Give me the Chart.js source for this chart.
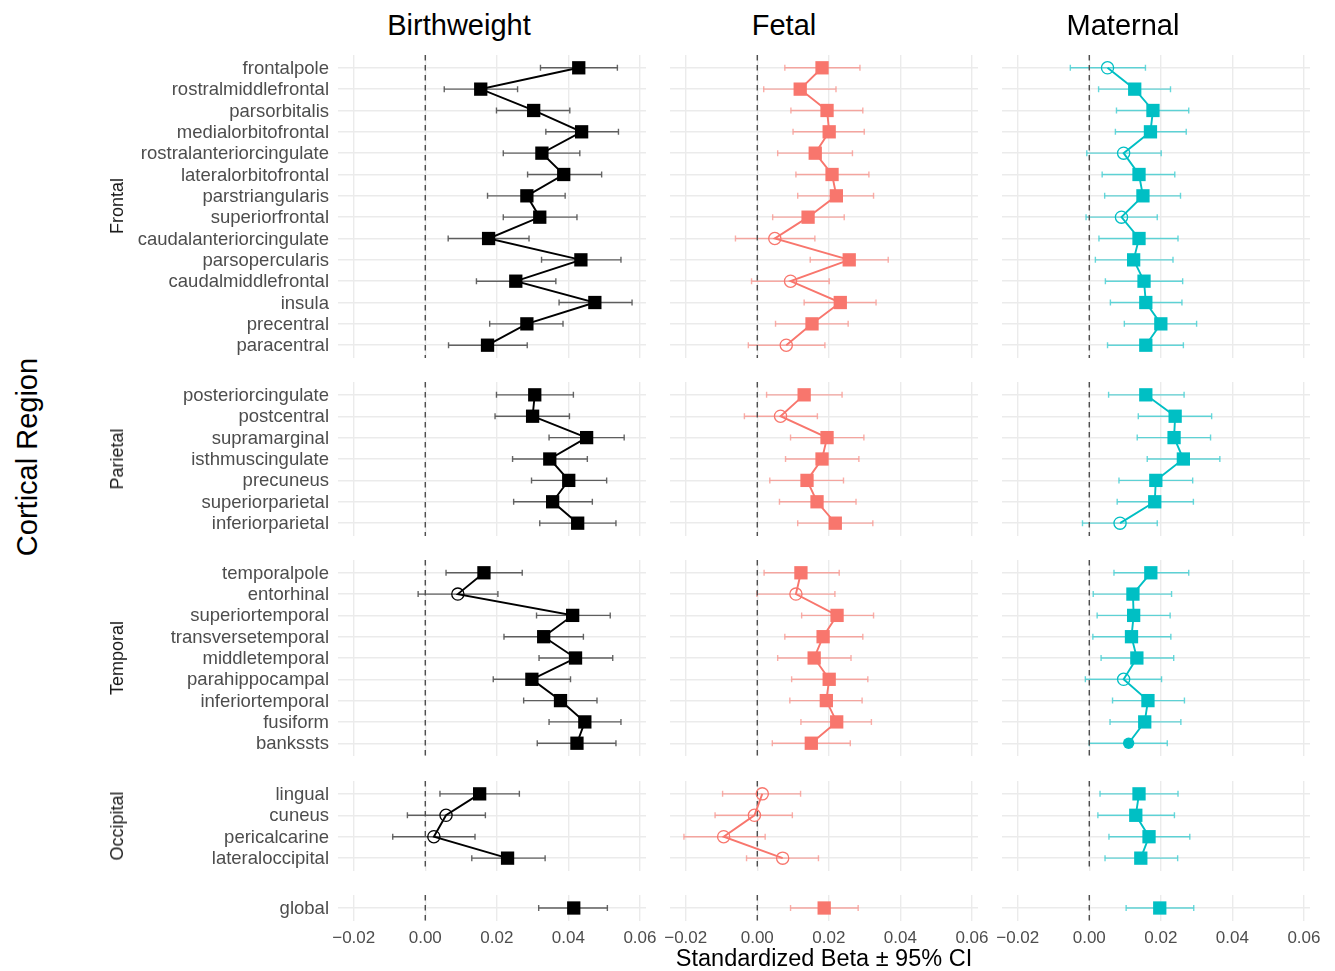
<!DOCTYPE html>
<html>
<head>
<meta charset="utf-8">
<title>Cortical Region betas</title>
<script src="https://cdn.jsdelivr.net/npm/chart.js@4.4.1/dist/chart.umd.min.js"></script>
<style>
  body { margin: 0; background: #fff; width: 1335px; height: 971px; position: relative; overflow: hidden;
         font-family: "Liberation Sans", Arial, Helvetica, sans-serif; }
  canvas { position: absolute; }
  .lbl { position: absolute; white-space: nowrap; transform: translate(-50%, -50%); }
  .rot { transform: translate(-50%, -50%) rotate(-90deg); }
</style>
</head>
<body>
<script>
// ---- data ----
const exposures = ["Birthweight", "Fetal", "Maternal"];
const exposureColors = ["#000000", "#F8766D", "#00BFC4"];
const errorColors = ["rgba(0,0,0,0.6)", "rgba(248,118,109,0.6)", "rgba(0,191,196,0.6)"];

const groupLabels = ["Frontal", "Parietal", "Temporal", "Occipital", ""];
const frontalRegions = ["frontalpole", "rostralmiddlefrontal", "parsorbitalis", "medialorbitofrontal",
  "rostralanteriorcingulate", "lateralorbitofrontal", "parstriangularis", "superiorfrontal",
  "caudalanteriorcingulate", "parsopercularis", "caudalmiddlefrontal", "insula", "precentral", "paracentral"];
const parietalRegions = ["posteriorcingulate", "postcentral", "supramarginal", "isthmuscingulate",
  "precuneus", "superiorparietal", "inferiorparietal"];
const temporalRegions = ["temporalpole", "entorhinal", "superiortemporal", "transversetemporal",
  "middletemporal", "parahippocampal", "inferiortemporal", "fusiform", "bankssts"];
const occipitalRegions = ["lingual", "cuneus", "pericalcarine", "lateraloccipital"];
const globalRegions = ["global"];

const xTicks = [-0.02, 0, 0.02, 0.04, 0.06];

// values run frontal, parietal, temporal, occipital, global
// sig: 2 = filled square, 1 = filled circle, 0 = open circle
const bwBeta = [0.0429,0.0155,0.0303,0.0437,0.0326,0.0387,0.0284,0.0320,0.0177,0.0435,0.0253,0.0474,0.0284,0.0174,
  0.0306,0.0300,0.0451,0.0348,0.0401,0.0356,0.0426,
  0.0164,0.0091,0.0412,0.0331,0.0420,0.0298,0.0378,0.0446,0.0424,
  0.0152,0.0058,0.0024,0.0230,
  0.0415];
const bwLower = [0.0322,0.0053,0.0199,0.0337,0.0218,0.0286,0.0174,0.0218,0.0064,0.0325,0.0143,0.0374,0.0180,0.0065,
  0.0199,0.0195,0.0346,0.0244,0.0297,0.0247,0.0320,
  0.0058,-0.0020,0.0311,0.0220,0.0318,0.0190,0.0275,0.0346,0.0313,
  0.0041,-0.0050,-0.0091,0.0130,
  0.0317];
const bwUpper = [0.0537,0.0258,0.0404,0.0540,0.0432,0.0493,0.0391,0.0424,0.0290,0.0547,0.0365,0.0578,0.0385,0.0285,
  0.0414,0.0403,0.0556,0.0453,0.0507,0.0467,0.0533,
  0.0271,0.0203,0.0517,0.0442,0.0524,0.0406,0.0480,0.0547,0.0533,
  0.0263,0.0168,0.0139,0.0335,
  0.0509];
const bwSig = [2,2,2,2,2,2,2,2,2,2,2,2,2,2, 2,2,2,2,2,2,2, 2,0,2,2,2,2,2,2,2, 2,0,0,2, 2];

const fetalBeta = [0.0181,0.0120,0.0195,0.0201,0.0162,0.0209,0.0221,0.0142,0.0049,0.0257,0.0093,0.0232,0.0153,0.0081,
  0.0131,0.0065,0.0195,0.0181,0.0139,0.0167,0.0218,
  0.0122,0.0108,0.0223,0.0184,0.0159,0.0201,0.0193,0.0222,0.0151,
  0.0014,-0.0008,-0.0094,0.0071,
  0.0187];
const fetalLower = [0.0077,0.0018,0.0094,0.0100,0.0057,0.0108,0.0113,0.0043,-0.0061,0.0148,-0.0016,0.0131,0.0051,-0.0025,
  0.0026,-0.0036,0.0093,0.0079,0.0035,0.0062,0.0113,
  0.0019,-0.0001,0.0124,0.0077,0.0057,0.0096,0.0091,0.0122,0.0042,
  -0.0097,-0.0118,-0.0205,-0.0030,
  0.0093];
const fetalUpper = [0.0287,0.0220,0.0295,0.0299,0.0266,0.0312,0.0325,0.0243,0.0161,0.0366,0.0201,0.0332,0.0254,0.0189,
  0.0237,0.0168,0.0298,0.0284,0.0241,0.0276,0.0323,
  0.0229,0.0217,0.0325,0.0295,0.0262,0.0309,0.0293,0.0319,0.0260,
  0.0121,0.0098,0.0022,0.0171,
  0.0282];
const fetalSig = [2,2,2,2,2,2,2,2,0,2,0,2,2,0, 2,0,2,2,2,2,2, 2,0,2,2,2,2,2,2,2, 0,0,0,0, 2];

const maternalBeta = [0.0051,0.0127,0.0178,0.0171,0.0096,0.0139,0.0150,0.0090,0.0139,0.0124,0.0153,0.0158,0.0200,0.0158,
  0.0158,0.0240,0.0237,0.0263,0.0186,0.0183,0.0086,
  0.0172,0.0122,0.0124,0.0118,0.0133,0.0096,0.0164,0.0155,0.0110,
  0.0139,0.0130,0.0167,0.0144,
  0.0197];
const maternalLower = [-0.0053,0.0026,0.0076,0.0073,-0.0007,0.0036,0.0043,-0.0009,0.0027,0.0017,0.0045,0.0059,0.0098,0.0051,
  0.0054,0.0137,0.0134,0.0162,0.0083,0.0078,-0.0019,
  0.0069,0.0011,0.0022,0.0010,0.0033,-0.0011,0.0065,0.0058,0.0000,
  0.0030,0.0024,0.0055,0.0044,
  0.0103];
const maternalUpper = [0.0157,0.0227,0.0278,0.0271,0.0201,0.0239,0.0255,0.0190,0.0248,0.0234,0.0261,0.0259,0.0300,0.0263,
  0.0265,0.0342,0.0339,0.0365,0.0289,0.0291,0.0190,
  0.0278,0.0230,0.0226,0.0228,0.0236,0.0202,0.0266,0.0256,0.0218,
  0.0248,0.0238,0.0281,0.0247,
  0.0292];
const maternalSig = [0,2,2,2,0,2,2,0,2,2,2,2,2,2, 2,2,2,2,2,2,0, 2,2,2,2,2,0,2,2,1, 2,2,2,2, 2];

// ---- layout ----
const groupRegions = [frontalRegions, parietalRegions, temporalRegions, occipitalRegions, globalRegions];
const series = [
  { beta: bwBeta, lower: bwLower, upper: bwUpper, sig: bwSig },
  { beta: fetalBeta, lower: fetalLower, upper: fetalUpper, sig: fetalSig },
  { beta: maternalBeta, lower: maternalLower, upper: maternalUpper, sig: maternalSig },
];
const xMin = -0.0244, xMax = 0.0617;
const panelLeft = [338, 670, 1002];
const panelWidth = 307.5;
const rowStep = 21.33;
const panelGap = 24.6;
const firstTop = 54.5;
const padX = 30, padY = 10;
const labelWidth = 210;
const axisHeight = 30;
const tickColor = "#4D4D4D";

Chart.defaults.font.family = "'Liberation Sans', Arial, Helvetica, sans-serif";

function fmtTick(v) {
  if (Math.abs(v) < 1e-9) return "0.00";
  return (v < 0 ? "\u2212" : "") + Math.abs(v).toFixed(2);
}

function errorBars(lower, upper, color) {
  return {
    id: "errorBars",
    beforeDatasetsDraw(chart) {
      const { ctx, chartArea, scales: { x, y } } = chart;
      ctx.save();
      ctx.beginPath();
      ctx.rect(chartArea.left, chartArea.top, chartArea.width, chartArea.height);
      ctx.clip();
      ctx.strokeStyle = color;
      ctx.lineWidth = 1.4;
      lower.forEach((lo, i) => {
        const py = y.getPixelForValue(i);
        const x0 = x.getPixelForValue(lo);
        const x1 = x.getPixelForValue(upper[i]);
        ctx.beginPath();
        ctx.moveTo(x0, py); ctx.lineTo(x1, py);
        ctx.moveTo(x0, py - 3); ctx.lineTo(x0, py + 3);
        ctx.moveTo(x1, py - 3); ctx.lineTo(x1, py + 3);
        ctx.stroke();
      });
      // reference line at zero
      const zx = x.getPixelForValue(0);
      ctx.setLineDash([5.5, 4.5]);
      ctx.strokeStyle = "#4D4D4D";
      ctx.lineWidth = 1.4;
      ctx.beginPath();
      ctx.moveTo(zx, chartArea.top);
      ctx.lineTo(zx, chartArea.bottom);
      ctx.stroke();
      ctx.restore();
    }
  };
}

function addLabel(text, x, y, size, color, rotated) {
  const d = document.createElement("div");
  d.className = "lbl" + (rotated ? " rot" : "");
  d.textContent = text;
  d.style.left = x + "px";
  d.style.top = y + "px";
  d.style.fontSize = size + "px";
  d.style.lineHeight = size + "px";
  d.style.color = color;
  document.body.appendChild(d);
}

function makePanel(col, row, panelTop, height) {
  const regions = groupRegions[row];
  const n = regions.length;
  const start = groupRegions.slice(0, row).reduce((s, r) => s + r.length, 0);
  const s = series[col];
  const beta = s.beta.slice(start, start + n);
  const lower = s.lower.slice(start, start + n);
  const upper = s.upper.slice(start, start + n);
  const sig = s.sig.slice(start, start + n);
  const color = exposureColors[col];

  const isFirst = col === 0;
  const isBottom = row === groupRegions.length - 1;
  const yw = isFirst ? labelWidth : 0;
  const xh = isBottom ? axisHeight : 0;

  const canvas = document.createElement("canvas");
  canvas.width = Math.round(panelWidth + yw + 2 * padX);
  canvas.height = Math.round(height + xh + 2 * padY);
  canvas.style.left = (panelLeft[col] - yw - padX) + "px";
  canvas.style.top = (panelTop - padY) + "px";
  document.body.appendChild(canvas);

  new Chart(canvas.getContext("2d"), {
    type: "scatter",
    data: {
      datasets: [{
        data: beta.map((b, i) => ({ x: b, y: i })),
        showLine: true,
        borderColor: color,
        borderWidth: 1.9,
        tension: 0,
        pointStyle: sig.map(v => (v === 2 ? "rect" : "circle")),
        pointRadius: sig.map(v => (v === 2 ? 9.4 : v === 1 ? 5.7 : 6.1)),
        pointBackgroundColor: sig.map(v => (v === 0 ? "rgba(0,0,0,0)" : color)),
        pointBorderColor: color,
        pointBorderWidth: sig.map(v => (v === 0 ? 1.3 : 0)),
      }]
    },
    options: {
      responsive: false,
      animation: false,
      devicePixelRatio: 1,
      events: [],
      layout: { padding: { left: padX, right: padX, top: padY, bottom: padY } },
      plugins: { legend: { display: false }, tooltip: { enabled: false } },
      scales: {
        x: {
          type: "linear",
          min: xMin,
          max: xMax,
          border: { display: false },
          grid: { color: "#EBEBEB", lineWidth: 1.4, drawTicks: false },
          afterBuildTicks: sc => { sc.ticks = xTicks.map(v => ({ value: v })); },
          afterFit: sc => { sc.height = xh; sc.paddingLeft = 0; sc.paddingRight = 0; },
          ticks: {
            display: isBottom,
            autoSkip: false,
            maxRotation: 0,
            padding: 7,
            color: tickColor,
            font: { size: 17 },
            callback: v => fmtTick(v),
          },
        },
        y: {
          type: "linear",
          reverse: true,
          min: -0.6,
          max: n - 0.4,
          border: { display: false },
          grid: { color: "#EBEBEB", lineWidth: 1.4, drawTicks: false },
          afterBuildTicks: sc => { sc.ticks = regions.map((_, i) => ({ value: i })); },
          afterFit: sc => { sc.width = yw; sc.paddingTop = 0; sc.paddingBottom = 0; },
          ticks: {
            display: isFirst,
            autoSkip: false,
            padding: 9,
            labelOffset: 1,
            color: tickColor,
            font: { size: 18.5 },
            callback: v => regions[v],
          },
        },
      },
    },
    plugins: [errorBars(lower, upper, errorColors[col])],
  });
}

let rowTop = firstTop;
groupRegions.forEach((regions, row) => {
  const height = (regions.length + 0.2) * rowStep;
  exposures.forEach((_, col) => makePanel(col, row, rowTop, height));
  if (groupLabels[row]) addLabel(groupLabels[row], 117, rowTop + height / 2, 18, "#1A1A1A", true);
  rowTop += height + panelGap;
});

// titles
const titleX = [459, 784, 1123];
exposures.forEach((name, i) => addLabel(name, titleX[i], 25, 29, "#000000", false));
addLabel("Cortical Region", 27, 457, 29, "#000000", true);
addLabel("Standardized Beta \u00B1 95% CI", 824, 959, 23.5, "#000000", false);
</script>
</body>
</html>
